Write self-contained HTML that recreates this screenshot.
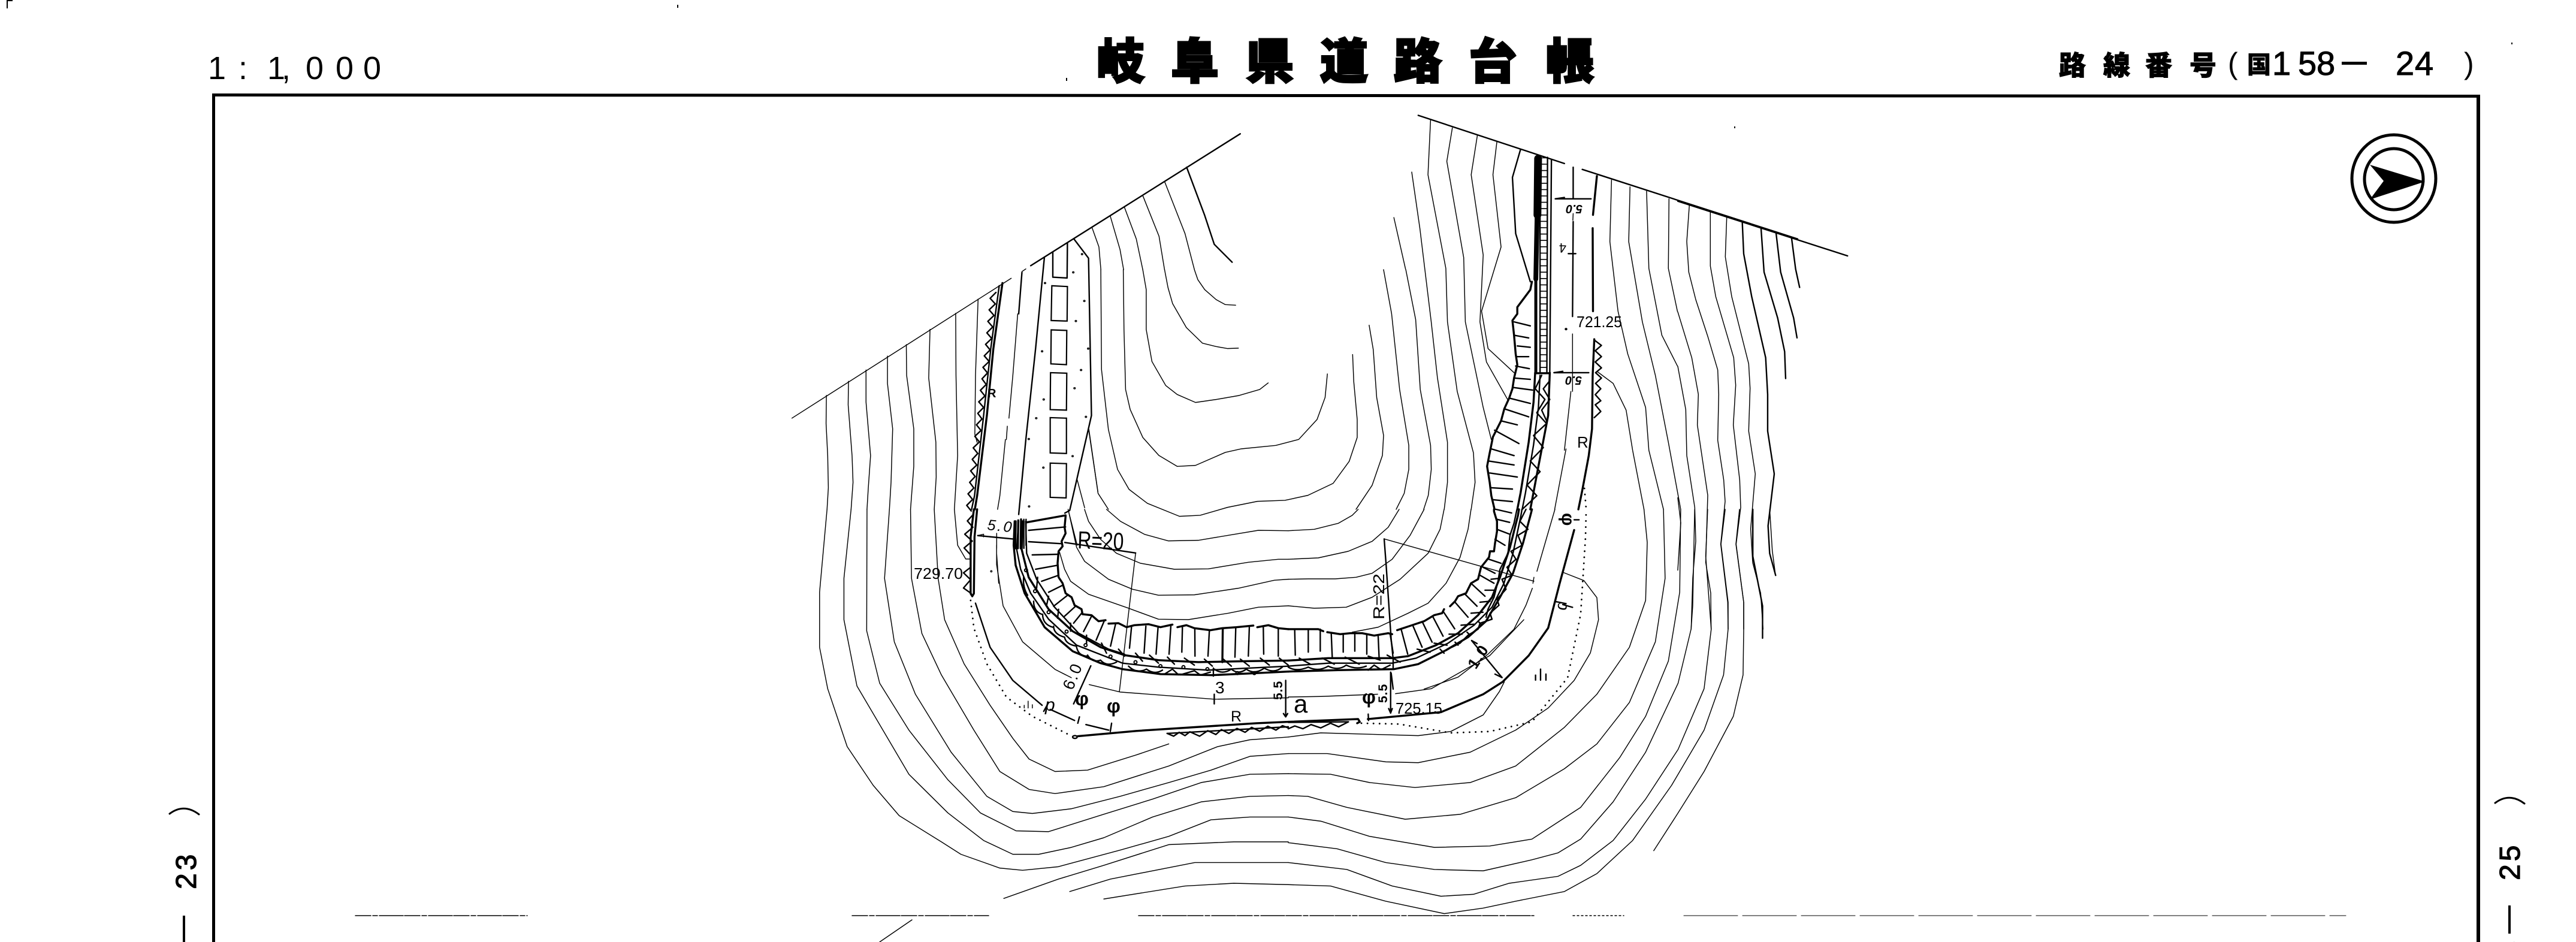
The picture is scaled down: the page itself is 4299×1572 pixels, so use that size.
<!DOCTYPE html>
<html><head><meta charset="utf-8"><title>岐阜県道路台帳</title>
<style>
html,body{margin:0;padding:0;background:#fff;width:4299px;height:1572px;overflow:hidden}
svg{display:block}
polyline,line,path,ellipse,circle{vector-effect:non-scaling-stroke;fill:none;stroke:#000;stroke-width:1.45;stroke-linejoin:round;stroke-linecap:round}
.m{stroke-width:2.4}
.b{stroke-width:3.4}
.h{stroke-width:5}
.d{stroke-width:2.8;stroke-dasharray:.1 10}
.x{stroke-width:1.5;stroke-dasharray:26 3 8 3 40 2}
text{font-family:"Liberation Sans","Noto Sans CJK JP",sans-serif;fill:#000}
.cjk{font-family:"Noto Sans CJK JP","Liberation Sans",sans-serif;font-weight:900;stroke:#000}
</style></head><body>
<svg xmlns="http://www.w3.org/2000/svg" width="4299" height="1572" viewBox="0 0 4299 1572">
<rect width="4299" height="1572" fill="#fff"/>

<!-- frame -->
<polygon points="354,156 4139,158 4139,163 359,161 359,1572 354,1572" fill="#000"/>
<rect x="4133" y="158" width="6" height="1414" fill="#000"/>

<!-- headings -->
<text font-size="54" x="347 398 446 470 510 560 606" y="132">1:1,000</text>
<g font-size="80">
<text x="1830" y="131" class="cjk" stroke-width="3">岐</text><text x="1954" y="131" class="cjk" stroke-width="3">阜</text><text x="2079" y="131" class="cjk" stroke-width="3">県</text><text x="2203" y="131" class="cjk" stroke-width="3">道</text><text x="2326" y="131" class="cjk" stroke-width="3">路</text><text x="2451" y="131" class="cjk" stroke-width="3">台</text><text x="2580" y="131" class="cjk" stroke-width="3">帳</text>
</g>
<g font-size="45">
<text x="3436" y="125" class="cjk" stroke-width="1">路</text><text x="3510" y="125" class="cjk" stroke-width="1">線</text><text x="3580" y="125" class="cjk" stroke-width="1">番</text><text x="3654" y="125" class="cjk" stroke-width="1">号</text><text x="3750" y="122" class="cjk" font-size="40" stroke-width=".5">国</text>
</g>
<text x="3718" y="123" font-size="50">(</text>
<text font-size="56" x="3792 3835 3866" y="125" style="stroke:#000;stroke-width:1">158</text>
<rect x="3908" y="103" width="42" height="5" fill="#000"/>
<text font-size="56" x="3998 4030" y="125" style="stroke:#000;stroke-width:1">24</text>
<text x="4112" y="123" font-size="50">)</text>

<!-- compass -->
<ellipse cx="3995" cy="298" rx="70" ry="73" style="stroke-width:5"/>
<ellipse cx="3995" cy="299" rx="49" ry="51" style="stroke-width:5"/>
<polygon points="3955,275 4047,303 3955,333 3978,302" fill="#000"/>

<!-- side labels -->
<path d="M283,1358 Q307,1340 332,1359" style="stroke-width:3"/>
<text transform="translate(327,1484) rotate(-90)" font-size="48" letter-spacing="5" style="stroke:#000;stroke-width:1.2">23</text>
<rect x="305" y="1528" width="4" height="44" fill="#000"/>
<path d="M4164,1340 Q4188,1322 4213,1341" style="stroke-width:3"/>
<text transform="translate(4205,1469) rotate(-90)" font-size="48" letter-spacing="5" style="stroke:#000;stroke-width:1.2">25</text>
<rect x="4186" y="1511" width="4" height="47" fill="#000"/>
<text transform="translate(4205,1597) rotate(-90)" font-size="48" style="stroke:#000;stroke-width:1">8</text>

<!-- specks -->
<g fill="#000"><rect x="1130" y="8" width="2" height="5"/><rect x="1779" y="130" width="2" height="5"/><rect x="4191" y="71" width="2" height="3"/><rect x="2894" y="211" width="2" height="3"/><rect x="11" y="0" width="10" height="2"/><rect x="11" y="0" width="2" height="14"/></g>

<!-- bottom broken line -->
<g>
<line x1="593" y1="1528" x2="880" y2="1528" class="x"/>
<line x1="1422" y1="1528" x2="1650" y2="1528" class="x"/>
<line x1="1900" y1="1528" x2="2560" y2="1528" class="x"/>
<line x1="2625" y1="1528" x2="2710" y2="1528" style="stroke-dasharray:3 4"/>
<line x1="2810" y1="1528" x2="3915" y2="1528" style="stroke-width:1;stroke-dasharray:90 8"/>
<line x1="1522" y1="1535" x2="1468" y2="1572"/>
</g>

<!-- ============ upper left (zoom 3 frame) ============ -->
<g transform="translate(1300,180) scale(.5421,.4464)">
<polyline points="40,1160 715,637"/><polyline points="748,612 760,602"/><polyline points="775,590 1420,97" class="m"/>
<polyline points="146,1075 145,1180 150,1300 152,1420 148,1501"/>
<polyline points="214,1022 213,1110 225,1300 228,1400 222,1501"/>
<polyline points="268,980 268,1100 282,1300 275,1420 271,1501"/>
<polyline points="334,928 334,1030 350,1200 345,1400 340,1501"/>
<polyline points="392,885 393,1000 415,1200 415,1340 405,1501"/>
<polyline points="465,828 461,1010 483,1250 484,1380 478,1501"/>
<polyline points="544,768 545,1000 550,1300 540,1501"/>
<polyline points="613,715 605,1000 603,1220 610,1250"/>
<polyline class="m" points="668,690 650,712 666,733 647,755 662,776 643,798 658,819 640,841 655,862 636,884 650,905 632,927 647,948 628,970 642,991 625,1013 638,1034 620,1056 634,1077 615,1099 630,1120 612,1142 625,1163 608,1185 622,1206 603,1228 617,1249 598,1271 612,1292 595,1314 609,1335 590,1357 604,1378 587,1400 600,1421 582,1443 596,1464 578,1486 592,1507"/>
<polyline class="b" points="688,655 660,900 640,1150 610,1450 603,1501"/>
<polyline class="m" points="678,665 652,900 630,1150 602,1450 593,1501"/>
<polyline class="m" points="748,615 738,770"/><polyline points="735,770 720,1000 708,1160"/><polyline points="703,1190 700,1240"/><polyline points="697,1240 680,1450 673,1501"/>
<polyline class="m" points="817,560 790,900 760,1240 738,1520"/>
<polyline class="m" points="843,540 843,633 887,636 888,505"/>
<polygon points="840,665 888,668 887,797 838,795" style="fill:none;stroke:#000;stroke-width:2.2;vector-effect:non-scaling-stroke"/>
<polygon points="838,830 886,832 885,960 837,957" style="fill:none;stroke:#000;stroke-width:2.2;vector-effect:non-scaling-stroke"/>
<polygon points="836,990 886,992 885,1130 835,1128" style="fill:none;stroke:#000;stroke-width:2.2;vector-effect:non-scaling-stroke"/>
<polygon points="835,1158 885,1160 885,1292 835,1290" style="fill:none;stroke:#000;stroke-width:2.2;vector-effect:non-scaling-stroke"/>
<polygon points="835,1328 885,1330 884,1458 835,1456" style="fill:none;stroke:#000;stroke-width:2.2;vector-effect:non-scaling-stroke"/>
<polyline class="m" points="908,490 953,562 962,1150 895,1505 880,1515"/>
<g class="m"><circle cx="933" cy="547" r="1.5" class="m"/><circle cx="906" cy="615" r="1.5" class="m"/><circle cx="819" cy="655" r="1.5" class="m"/><circle cx="940" cy="722" r="1.5" class="m"/><circle cx="914" cy="797" r="1.5" class="m"/><circle cx="952" cy="900" r="1.5" class="m"/><circle cx="810" cy="910" r="1.5" class="m"/><circle cx="930" cy="980" r="1.5" class="m"/><circle cx="910" cy="1048" r="1.5" class="m"/><circle cx="815" cy="1090" r="1.5" class="m"/><circle cx="945" cy="1155" r="1.5" class="m"/><circle cx="792" cy="1160" r="1.5" class="m"/><circle cx="769" cy="1238" r="1.5" class="m"/><circle cx="904" cy="1302" r="1.5" class="m"/><circle cx="814" cy="1345" r="1.5" class="m"/><circle cx="770" cy="1490" r="1.5" class="m"/></g>
<polyline points="963,445 985,520 991,605"/>
<polyline points="1020,405 1050,530 1061,605"/>
<polyline points="1063,370 1100,490 1120,605"/>
<polyline points="1120,328 1170,480 1187,605"/>
<polyline points="1187,275 1250,470 1279,605"/>
<polyline class="m" points="1255,222 1310,400 1340,510 1395,577"/>
<polyline points="953,1200 982,1437"/>
<polyline points="918,1390 941,1495"/>
</g>

<!-- ============ inner contours (zoom 11 frame) ============ -->
<g transform="translate(1800,450) scale(.3827,.3333)">
<polyline points="505,0 520,50 550,100 600,150 640,175 685,178"/>
<polyline points="375,0 390,90 410,170 470,290 540,368 600,385 650,395 697,393"/>
<polyline points="280,0 295,100 295,300 320,460 380,580 430,625 510,665 600,650 700,630 790,600 827,567"/>
<polyline points="195,0 198,300 205,600 225,700 280,840 350,930 430,985 510,980 640,915 710,897 860,880 960,850 1040,750 1075,640 1085,522"/>
<polyline points="97,0 100,500 130,800 170,1000 220,1100 300,1170 440,1235 530,1230 650,1190 780,1160 900,1155 1000,1130 1110,1070 1180,960 1215,840 1215,750 1200,560 1195,425"/>
<polyline points="45,800 70,1000 85,1120 130,1200"/>
<polyline points="1267,278 1285,400 1300,640 1330,830 1325,930 1280,1080 1210,1200"/>
<polyline points="1330,0 1365,220 1400,600 1440,880 1440,1000 1420,1120 1385,1200"/>
<polyline points="1427,0 1470,250 1490,600 1535,880 1538,1000 1525,1130 1505,1200"/>
</g>

<!-- ============ lower left (zoom 5 frame) ============ -->
<g transform="translate(1300,850) scale(.5421,.4605)">
<polyline points="148,0 125,300 125,500 150,650 210,860 290,1000 370,1110 500,1205 560,1250 680,1300 750,1308 860,1295 1050,1235 1200,1185 1330,1125 1450,1115 1568,1115"/>
<polyline points="222,0 200,250 200,400 240,640 330,820 400,960 520,1100 630,1200 720,1250 800,1250 900,1225 1000,1190 1150,1115 1300,1060 1450,1040 1568,1037"/>
<polyline points="271,0 270,440 310,630 400,800 520,980 620,1100 730,1165 830,1168 1000,1105 1150,1050 1300,990 1450,960 1568,958"/>
<polyline points="340,0 325,250 355,480 420,670 530,880 640,1040 720,1095 780,1102 900,1085 1050,1040 1200,990 1330,945 1450,895 1568,885"/>
<polyline points="405,0 408,250 440,450 500,600 600,800 680,950 770,1015 850,1030 1000,1005 1200,930 1350,860 1450,835 1568,825"/>
<polyline points="478,0 490,250 510,400 570,560 650,710 720,830 770,905 850,950 950,945 1100,890 1200,850"/>
<polyline points="540,0 550,130 575,180 590,180"/>
<polyline points="692,1410 860,1340 1000,1290 1200,1215 1400,1205 1568,1205"/>
<polyline points="895,1385 1020,1340 1280,1280 1568,1280"/>
<polyline points="1000,1412 1250,1365 1400,1355 1568,1360"/>
<polyline class="m" points="597,20 580,42 597,65 572,90 595,115 570,140 590,165"/>
<polyline class="m" points="590,210 568,230 590,255 568,285 592,305"/>
<polyline class="b" points="610,0 602,100 600,305 595,315 590,305 590,100 600,0"/>
<polyline points="670,130 670,200 690,350 750,480 850,580 900,610"/>
<polyline class="m" points="605,340 650,500 720,620 810,710"/>
<polyline class="m" points="835,725 910,765"/>
<polyline class="m" points="945,780 1015,800"/>
<polyline class="b" points="920,822 1100,803 1470,775 1568,770"/>
<ellipse cx="911" cy="825" rx="7" ry="5" class="m"/>
<polyline class="m" points="1195,812 1215,822 1232,808 1250,820 1265,806 1295,822 1320,802 1345,816 1362,798 1385,812 1410,794 1435,808 1455,790 1480,804 1505,786 1530,800 1550,784 1568,792"/>
<line class="m" x1="1195" y1="812" x2="1568" y2="788"/>
<polyline class="d" points="590,330 600,430 640,560 700,680 780,750 890,815"/>
<polyline points="955,635 1050,662 1340,688 1568,683"/>
<line class="m" x1="1340" y1="670" x2="1340" y2="705"/>
<line x1="1048" y1="660" x2="1098" y2="158"/>
<line x1="1098" y1="158" x2="880" y2="120" class="m"/>
<line class="m" x1="612" y1="95" x2="725" y2="108"/>
<polyline points="612,95 630,90 630,100"/>
<line class="m" x1="960" y1="567" x2="907" y2="705"/>
<line class="m" x1="1560" y1="620" x2="1560" y2="750"/>
<polyline class="m" points="1553,740 1560,752 1566,740"/>
<line x1="890" y1="0" x2="918" y2="130"/>
<line x1="755" y1="720" x2="755" y2="710"/><line x1="767" y1="720" x2="767" y2="695"/><line x1="780" y1="720" x2="780" y2="708"/>
<line class="m" x1="925" y1="752" x2="920" y2="775"/><line class="m" x1="1024" y1="775" x2="1020" y2="805"/>
<line class="m" x1="815" y1="732" x2="830" y2="700"/>
</g>

<!-- ============ road wall lower-left (zoom 9 frame) ============ -->
<g transform="translate(1650,850) scale(.3333)">
<polyline points="590,0 660,60 780,125 900,158 1050,155 1200,130 1350,105 1500,107"/>
<polyline points="480,0 500,60 560,150 640,220 760,270 930,300 1100,298 1300,265 1450,250 1500,250"/>
<polyline points="400,10 440,190 480,260 600,350 720,400 850,430 1030,428 1250,395 1430,355 1500,350"/>
<polyline points="355,215 380,300 410,360 500,425 700,495 850,550 1000,552 1200,520 1350,490 1500,483"/>
<polyline class="b" points="130,60 125,180 135,280 180,420 280,590 420,710 560,770 670,800 860,825 1120,830 1300,822 1500,812"/>
<polyline class="m" points="150,60 140,200 160,300 210,420 300,550 440,680 670,770 850,790 1100,805 1300,795 1500,785"/>
<polyline class="b" points="170,60 165,200 200,340 300,500 420,610 560,690 680,730 850,755 1050,765 1300,760 1500,757"/>
<polyline class="m" points="185,60 190,220 240,350 330,490 450,620 600,700 680,725"/>
<g>
<line class="b" x1="135" y1="60" x2="133" y2="195"/><line class="b" x1="148" y1="55" x2="146" y2="195"/><line class="b" x1="162" y1="50" x2="160" y2="195"/><line class="m" x1="176" y1="50" x2="176" y2="195"/><line class="m" x1="187" y1="50" x2="187" y2="180"/>
</g>
<polyline class="b" points="385,35 380,90 385,120 365,160 370,185 350,210 345,270 350,340 370,370 385,420 415,440 430,480 465,500 470,525 515,530 550,560 585,555"/>
<polyline class="b" points="600,572 650,570 690,590 730,580 800,575 860,590 920,577"/>
<polyline class="b" points="945,590 990,580 1030,595 1110,605 1170,595 1240,590 1325,582"/>
<polyline class="b" points="1345,590 1400,580 1450,595 1500,600"/>
<g>
<line class="b" x1="190" y1="65" x2="385" y2="30"/><line class="m" x1="200" y1="105" x2="385" y2="88"/><line class="m" x1="200" y1="162" x2="365" y2="172"/><line class="m" x1="218" y1="228" x2="345" y2="225"/><line class="m" x1="235" y1="300" x2="345" y2="280"/><line class="m" x1="265" y1="360" x2="350" y2="330"/><line class="m" x1="300" y1="415" x2="370" y2="380"/><line class="m" x1="325" y1="485" x2="395" y2="430"/><line class="m" x1="380" y1="535" x2="435" y2="485"/><line class="m" x1="425" y1="570" x2="465" y2="520"/><line class="m" x1="475" y1="612" x2="515" y2="535"/><line class="m" x1="538" y1="655" x2="580" y2="555"/><line class="m" x1="610" y1="685" x2="635" y2="575"/><line class="m" x1="705" y1="695" x2="715" y2="590"/><line class="m" x1="778" y1="720" x2="787" y2="585"/><line class="m" x1="838" y1="725" x2="848" y2="590"/><line class="m" x1="903" y1="725" x2="912" y2="585"/><line class="m" x1="967" y1="715" x2="970" y2="590"/><line class="m" x1="1033" y1="735" x2="1032" y2="595"/><line class="m" x1="1098" y1="735" x2="1105" y2="605"/><line class="b" x1="1170" y1="765" x2="1172" y2="600"/><line class="m" x1="1233" y1="740" x2="1237" y2="595"/><line class="m" x1="1300" y1="735" x2="1305" y2="590"/><line class="m" x1="1377" y1="725" x2="1375" y2="590"/><line class="m" x1="1450" y1="735" x2="1450" y2="595"/>
</g>
<g>
<line class="m" x1="565" y1="670" x2="590" y2="720"/><line class="m" x1="650" y1="700" x2="680" y2="735"/><line class="m" x1="735" y1="720" x2="770" y2="760"/><line class="m" x1="805" y1="730" x2="850" y2="770"/><line class="m" x1="895" y1="740" x2="930" y2="775"/><line class="m" x1="980" y1="745" x2="1030" y2="780"/><line class="m" x1="1080" y1="750" x2="1120" y2="785"/><line class="m" x1="1175" y1="750" x2="1215" y2="785"/><line class="m" x1="1260" y1="750" x2="1305" y2="785"/><line class="m" x1="1360" y1="745" x2="1405" y2="780"/><line class="m" x1="1455" y1="745" x2="1500" y2="780"/>
<line class="m" x1="245" y1="340" x2="240" y2="395"/><line class="m" x1="300" y1="435" x2="290" y2="480"/><line class="m" x1="350" y1="500" x2="345" y2="545"/><line class="m" x1="410" y1="570" x2="410" y2="610"/><line class="m" x1="490" y1="630" x2="490" y2="670"/>
</g>
<path class="m" d="M175,340Q170,390 195,430M225,460Q225,510 265,525M270,525Q270,575 320,590M325,585Q325,625 380,640M380,640Q385,675 440,685M440,690Q450,735 495,735M495,730Q520,770 560,755M560,755Q590,790 640,765M700,785Q740,825 790,800M790,800Q830,830 870,805M880,825L920,800L950,828M960,828L1030,808L1060,830L1110,815M1130,800Q1170,830 1215,800M1215,800Q1250,830 1290,800M1290,800Q1330,830 1380,795M1380,795Q1430,825 1470,790"/>
<g>
<circle class="h" cx="187" cy="305" r="3"/><circle class="h" cx="232" cy="410" r="3"/><circle class="h" cx="300" cy="515" r="3"/><circle class="h" cx="390" cy="612" r="3"/><circle class="h" cx="485" cy="680" r="3"/><circle class="h" cx="610" cy="737" r="3"/><circle class="h" cx="735" cy="765" r="3"/><circle class="h" cx="860" cy="785" r="3"/><circle class="h" cx="975" cy="790" r="3"/><circle class="h" cx="1095" cy="800" r="3"/><circle class="h" cx="1245" cy="820" r="3"/><circle class="h" cx="1330" cy="820" r="3"/><circle class="m" cx="13" cy="310" r="2"/>
</g>
<line class="m" x1="1125" y1="795" x2="1125" y2="835"/>
<line x1="40" y1="120" x2="40" y2="195"/>
<line x1="40" y1="225" x2="50" y2="370"/>
</g>

<!-- ============ road wall lower-right (zoom 10 frame) ============ -->
<g transform="translate(2150,850) scale(.3333)">
<polyline points="0,107 130,100 250,70 320,30 350,0"/>
<polyline points="0,250 150,243 300,210 420,160 500,90 555,0"/>
<polyline points="0,350 100,348 235,348 340,340 420,320 520,250 610,130 680,0"/>
<polyline points="0,483 130,495 290,490 420,440 560,350 700,220 760,100 780,0"/>
<polyline points="320,615 450,590 600,520 700,470 790,370 860,240 900,100 915,0"/>
<polyline class="b" points="0,600 60,600 150,600 175,610"/>
<polyline class="b" points="195,615 260,625 310,620 370,620 430,632 500,620 520,625"/>
<polyline class="b" points="545,605 620,580 680,560 730,530 770,520 780,500"/>
<polyline class="b" points="810,485 835,460 850,435 890,420 915,370 950,350 965,290 1005,240 1010,210 1030,210 1035,170 1045,110 1045,60 1030,10 1030,0"/>
<g>
<line class="m" x1="35" y1="730" x2="32" y2="600"/><line class="m" x1="100" y1="715" x2="100" y2="605"/><line class="m" x1="160" y1="710" x2="160" y2="600"/><line class="m" x1="220" y1="740" x2="215" y2="620"/><line class="m" x1="275" y1="715" x2="275" y2="625"/><line class="m" x1="333" y1="710" x2="333" y2="625"/><line class="m" x1="393" y1="725" x2="393" y2="625"/><line class="m" x1="455" y1="750" x2="450" y2="635"/><line class="m" x1="525" y1="720" x2="510" y2="625"/><line class="m" x1="598" y1="725" x2="565" y2="600"/><line class="m" x1="670" y1="690" x2="625" y2="585"/><line class="m" x1="720" y1="665" x2="672" y2="565"/><line class="m" x1="775" y1="635" x2="725" y2="540"/><line class="m" x1="833" y1="598" x2="775" y2="510"/><line class="m" x1="900" y1="540" x2="835" y2="465"/><line class="m" x1="945" y1="485" x2="885" y2="425"/><line class="m" x1="985" y1="435" x2="920" y2="375"/><line class="m" x1="1030" y1="370" x2="960" y2="330"/><line class="m" x1="1035" y1="320" x2="975" y2="290"/><line class="m" x1="1065" y1="270" x2="1005" y2="250"/><line class="m" x1="1085" y1="180" x2="1035" y2="150"/><line class="m" x1="1110" y1="125" x2="1045" y2="100"/><line class="m" x1="1108" y1="65" x2="1045" y2="50"/><line class="m" x1="1118" y1="18" x2="1040" y2="0"/>
</g>
<polyline class="b" points="0,757 200,745 520,745 600,735 740,680 850,620 950,530 1020,440 1060,340 1110,190 1150,30 1155,0"/>
<polyline class="m" points="0,785 200,770 520,770 640,745 800,670 930,580 1020,490 1080,370 1125,220 1165,30 1170,0"/>
<polyline class="b" points="0,812 250,805 530,800 650,775 790,705 900,640 990,560 1060,440 1125,320 1175,170 1215,20 1220,0"/>
<polyline class="m" points="1190,0 1160,60 1200,100 1150,130 1170,180 1115,210 1140,250 1095,290 1120,330 1070,350 1090,400 1045,450 1055,480 1010,520 1020,550 960,570 950,600 900,630 860,670 820,690"/>
<polyline class="m" points="1145,0 1130,70 1110,130 1100,220 1060,300 1050,360 1030,440 1000,500 990,540"/>
<path class="m" d="M0,790Q40,815 100,790M100,790Q150,815 200,785M200,785Q250,810 290,780M290,780Q340,805 390,785M400,805L430,780L460,800M470,800L510,780M780,720L760,700M850,680L835,665M910,630L895,615M965,575L950,560"/>
<line class="m" x1="55" y1="745" x2="110" y2="775"/><line class="m" x1="170" y1="745" x2="230" y2="775"/><line class="m" x1="285" y1="740" x2="355" y2="775"/><line class="m" x1="400" y1="735" x2="460" y2="755"/><line class="m" x1="495" y1="730" x2="560" y2="765"/>
<line class="m" x1="645" y1="700" x2="710" y2="715"/><line class="m" x1="730" y1="670" x2="795" y2="680"/><line class="m" x1="805" y1="625" x2="870" y2="625"/><line class="m" x1="865" y1="580" x2="930" y2="575"/><line class="m" x1="915" y1="520" x2="975" y2="515"/><line class="m" x1="960" y1="465" x2="1010" y2="460"/><line class="m" x1="985" y1="405" x2="1030" y2="405"/><line class="m" x1="1015" y1="350" x2="1060" y2="345"/>
<polyline class="m" points="480,148 490,280 515,650 525,750"/>
<polyline points="480,148 1230,360"/>
<line class="m" x1="525" y1="745" x2="525" y2="800"/>
<line class="m" x1="515" y1="820" x2="525" y2="900"/>
<polyline points="1230,340 1225,370"/>
<polyline class="m" points="918,657 1070,842"/>
<polyline class="m" points="918,657 945,672"/><polyline class="m" points="1070,842 1035,825"/>
<polyline points="1335,0 1300,120 1245,310"/>
<polyline points="1222,395 1190,480 1130,600 1000,725 850,840 680,900"/>
<line class="m" x1="1238" y1="855" x2="1238" y2="830"/><line class="m" x1="1263" y1="855" x2="1263" y2="800"/><line class="m" x1="1290" y1="855" x2="1290" y2="825"/>
</g>

<!-- ============ upper right (zoom 4 frame) ============ -->
<g transform="translate(2150,180) scale(.5421,.4464)">
<polyline class="m" points="400,28 850,208"/><polyline class="m" points="905,230 1568,490"/>
<polyline points="438,45 430,250 485,600 490,800 520,1060 570,1290 575,1400 563,1501"/>
<polyline points="505,75 488,200 540,560 545,800 600,1120 625,1240"/>
<polyline points="582,103 563,250 600,550 590,800 610,950 675,1090"/>
<polyline points="642,128 630,250 655,520 595,760 615,900 695,990"/>
<polyline class="m" points="715,155 690,260 700,470 745,650"/>
<polyline points="380,240 405,450 440,800 459,1008 490,1250 490,1400 480,1501"/>
<polyline points="325,410 361,603"/>
<!-- wall upper part -->
<line x1="769" y1="190" x2="767" y2="400" style="stroke-width:13"/>
<line x1="766" y1="400" x2="762" y2="640" style="stroke-width:8"/>
<line class="h" x1="762" y1="640" x2="762" y2="990"/>
<line class="m" x1="775" y1="180" x2="775" y2="990"/>
<line class="m" x1="798" y1="185" x2="796" y2="990"/>
<line class="m" x1="810" y1="195" x2="805" y2="990"/>
<line x1="786" y1="185" x2="785" y2="990" style="stroke-width:13;stroke-dasharray:1.6 9;stroke-linecap:butt"/>
<line class="b" x1="760" y1="992" x2="805" y2="992"/>
<polyline class="b" points="750,650 745,680 705,745 705,770 690,795 695,850 700,920 705,960 695,1010 690,1050 680,1085 665,1125 655,1170 630,1230 620,1290 612,1340 620,1400 625,1450 635,1501"/>
<g>
<line class="m" x1="695" y1="800" x2="745" y2="815"/><line class="m" x1="695" y1="850" x2="740" y2="860"/><line class="m" x1="705" y1="890" x2="745" y2="895"/><line class="m" x1="705" y1="930" x2="740" y2="930"/><line class="m" x1="700" y1="965" x2="742" y2="975"/><line class="m" x1="695" y1="1010" x2="745" y2="1015"/><line class="m" x1="690" y1="1045" x2="752" y2="1055"/><line class="m" x1="680" y1="1085" x2="745" y2="1105"/><line class="m" x1="665" y1="1125" x2="740" y2="1155"/><line class="m" x1="655" y1="1170" x2="705" y2="1185"/><line class="m" x1="635" y1="1205" x2="710" y2="1255"/><line class="m" x1="625" y1="1275" x2="695" y2="1300"/><line class="m" x1="615" y1="1320" x2="695" y2="1335"/><line class="m" x1="620" y1="1365" x2="705" y2="1380"/><line class="m" x1="625" y1="1420" x2="690" y2="1425"/><line class="m" x1="630" y1="1465" x2="690" y2="1472"/>
</g>
<polyline class="b" points="760,990 755,1100 740,1250 715,1440 705,1501"/>
<polyline class="m" points="775,1000 770,1120 755,1260 730,1440 720,1501"/>
<polyline class="b" points="805,990 800,1150 770,1340 745,1501"/>
<polyline class="m" points="780,1000 760,1050 790,1090 765,1140 795,1180 755,1225 785,1270 745,1320 775,1360 735,1410 765,1450 720,1501"/>
<polyline class="m" points="805,1020 785,1050 805,1090 780,1130 795,1170"/>
<!-- dims -->
<line class="m" x1="822" y1="340" x2="932" y2="340"/>
<polyline class="m" points="822,340 850,335"/>
<line class="m" x1="818" y1="990" x2="925" y2="990"/>
<polyline class="m" points="818,990 845,985"/>
<line class="m" x1="877" y1="222" x2="877" y2="340"/>
<line x1="877" y1="395" x2="876" y2="420"/>
<line class="m" x1="877" y1="425" x2="875" y2="780"/>
<line x1="875" y1="845" x2="875" y2="1060"/>
<line class="m" x1="862" y1="545" x2="885" y2="545"/>
<polyline points="870,1060 850,1280"/><polyline points="855,1275 820,1501"/>
<circle class="m" cx="855" cy="827" r="2"/>
<!-- road edge right -->
<polyline class="b" points="950,255 938,400"/>
<polyline class="b" points="937,450 938,760"/>
<polyline class="b" points="942,865 937,1000 935,1200 925,1300 905,1430 893,1501"/>
<polyline class="m" points="942,868 964,888 945,908 964,930 945,950 964,972 946,990 964,1010 946,1030 962,1050 945,1072 962,1095 945,1110 962,1135 942,1158"/>
<polyline class="d" points="910,1400 917,1501"/>
<line class="m" x1="880" y1="1540" x2="895" y2="1540"/>
<!-- right contours -->
<polyline points="950,985 1000,1030 1040,1130 1060,1280 1095,1501"/>
<polyline points="995,270 990,500 1015,760 1045,920 1100,1120 1110,1280 1155,1501"/>
<polyline points="1052,295 1048,500 1090,800 1130,1000 1170,1250 1208,1501"/>
<polyline points="1103,312 1110,600 1150,850 1198,965"/>
<polyline points="1172,340 1170,600 1198,761"/>
</g>

<!-- ============ far right contours (zoom 12 frame) ============ -->
<g transform="translate(2800,250) scale(.3333,.5102)">
<line x1="0" y1="168" x2="850" y2="347" class="m"/>
<polyline points="58,180 45,300 55,400 90,490 150,610 200,720 205,800 200,950 230,1080 237,1150 215,1290 250,1480 252,1568"/>
<polyline points="163,205 163,380 190,480 280,680 290,770 278,900 310,1080 315,1170 292,1290 330,1480 330,1568"/>
<polyline points="245,222 238,350 270,480 355,700 362,780 355,920 388,1060 365,1240 375,1350 415,1450 427,1568"/>
<polyline class="m" points="323,238 330,340 370,480 440,680 450,800 450,920 483,1060 452,1230 460,1320 490,1392"/>
<polyline class="m" points="417,258 432,400 500,550 535,660 540,748"/>
<polyline class="m" points="492,272 515,400 580,550 597,615"/>
<polyline class="m" points="570,290 590,390 610,450"/>
<polyline points="0,530 70,680 103,800 98,900 150,1130 140,1350 165,1450 167,1568"/>
<polyline points="0,708 40,850 45,1000 85,1170 90,1280 75,1400 67,1568"/>
<polyline points="0,1138 15,1220 0,1375"/>
</g>

<!-- ============ lower right (zoom 6 frame) ============ -->
<g transform="translate(2150,850) scale(.5421,.4605)">
<polyline points="0,825 100,810 250,815 400,820 500,805 600,745 650,660 665,625"/>
<polyline points="0,885 120,885 300,915 400,918 560,880 700,800 800,720 880,620 930,520 955,400 950,320 910,258 845,228"/>
<polyline points="0,958 130,960 250,990 390,1008 560,990 700,930 850,790 950,670 1050,500 1100,330 1105,120 1095,0"/>
<polyline points="0,1037 60,1040 180,1080 360,1123 530,1105 700,1045 850,940 950,850 1050,700 1130,480 1160,250 1155,0"/>
<polyline points="0,1115 100,1130 250,1185 450,1225 620,1220 750,1195 900,1080 1020,900 1100,750 1170,550 1205,300 1208,0"/>
<polyline points="0,1208 150,1230 300,1280 450,1305 600,1310 750,1270 830,1245 900,1195 1000,1060 1100,880 1200,630 1240,434"/>
<polyline points="1251,0 1245,350 1240,434"/>
<polyline points="0,1280 180,1305 320,1365 470,1402 570,1395 680,1355 830,1330 900,1290 1000,1200 1100,1050 1200,870 1280,650 1302,434"/>
<polyline points="0,1360 130,1365 300,1420 480,1465 600,1445 700,1420 850,1385 950,1320 1060,1200 1180,1000 1280,800 1340,600 1354,434 1354,337 1332,126 1345,0"/>
<polyline points="1291,0 1285,170 1302,434"/>
<polyline points="1389,0 1378,126 1402,337 1402,434 1400,600 1370,750 1280,950 1200,1100 1125,1237"/>
<polyline class="m" points="1430,0 1430,170 1460,350 1460,467"/>
<polyline points="1482,0 1490,150 1500,240"/>
<polyline class="b" points="245,760 470,735 600,670 660,625 740,530 800,430 835,270 880,75"/>
<polyline class="b" points="0,770 215,760 220,770 212,775"/>
<polyline class="m" points="0,795 20,785 45,795 70,780 100,792 130,775 155,788 185,770"/>
<line class="m" x1="0" y1="772" x2="185" y2="770"/>
<polyline class="d" points="225,775 340,778 500,810 620,805 750,770 860,610 900,380 915,100 917,0"/>
<polyline points="0,680 100,678 275,670"/>
<polyline points="330,668 440,650 620,530 725,400"/>
<line class="m" x1="315" y1="590" x2="315" y2="738"/>
<polyline class="m" points="309,722 315,738 320,722"/>
<line class="m" x1="246" y1="742" x2="247" y2="765"/>
<line class="m" x1="845" y1="345" x2="875" y2="355"/>
</g>

<!-- ============ labels ============ -->
<g>
<text transform="translate(2605,342) rotate(180) translate(-36,0)" font-size="20" font-style="italic" font-weight="bold">5.0</text>
<text transform="translate(2604,628) rotate(180) translate(-36,0)" font-size="20" font-style="italic" font-weight="bold">5.0</text>
<text transform="translate(2614,406) rotate(180)" font-size="22">4</text>
<text x="2631" y="546" font-size="26" textLength="76" lengthAdjust="spacingAndGlyphs">721.25</text>
<text x="2632" y="747" font-size="26">R</text>
<text x="1648" y="663" font-size="20" font-weight="bold">R</text>
<text transform="translate(1647,884) rotate(6)" font-size="25" font-style="italic" letter-spacing="3">5.0</text>
<text transform="translate(1798,915) rotate(2)" font-size="41" textLength="77" lengthAdjust="spacingAndGlyphs">R=20</text>
<text x="1525" y="966" font-size="26" textLength="82" lengthAdjust="spacingAndGlyphs">729.70</text>
<text transform="translate(1790,1153) rotate(-68)" font-size="27" letter-spacing="3">6.0</text>
<text x="2028" y="1157" font-size="28">3</text>
<text x="2054" y="1204" font-size="25">R</text>
<text transform="translate(2140,1168) rotate(-90)" font-size="21" letter-spacing="1" font-weight="bold">5.5</text>
<text transform="translate(2315,1173) rotate(-90)" font-size="21" letter-spacing="1" font-weight="bold">5.5</text>
<text x="2159" y="1189" font-size="42">a</text>
<text x="2329" y="1191" font-size="26" textLength="78" lengthAdjust="spacingAndGlyphs">725.15</text>
<text transform="translate(2463,1118) rotate(-57)" font-size="26" letter-spacing="2" font-weight="bold">1.0</text>
<text transform="translate(2310,1034) rotate(-90)" font-size="26" textLength="77" lengthAdjust="spacingAndGlyphs">R=22</text>
<text x="1744" y="1186" font-size="30" font-style="italic">p</text>
<text transform="translate(2600,1003) rotate(90)" font-size="28" font-style="italic">p</text>
<text x="1794" y="1177" font-size="32" font-weight="bold">φ</text>
<text x="1847" y="1189" font-size="32" font-weight="bold">φ</text>
<text x="2273" y="1174" font-size="32" font-weight="bold">φ</text>
<text transform="translate(2607,856) rotate(90)" font-size="30" font-weight="bold">φ</text>
</g>
</svg>
</body></html>
